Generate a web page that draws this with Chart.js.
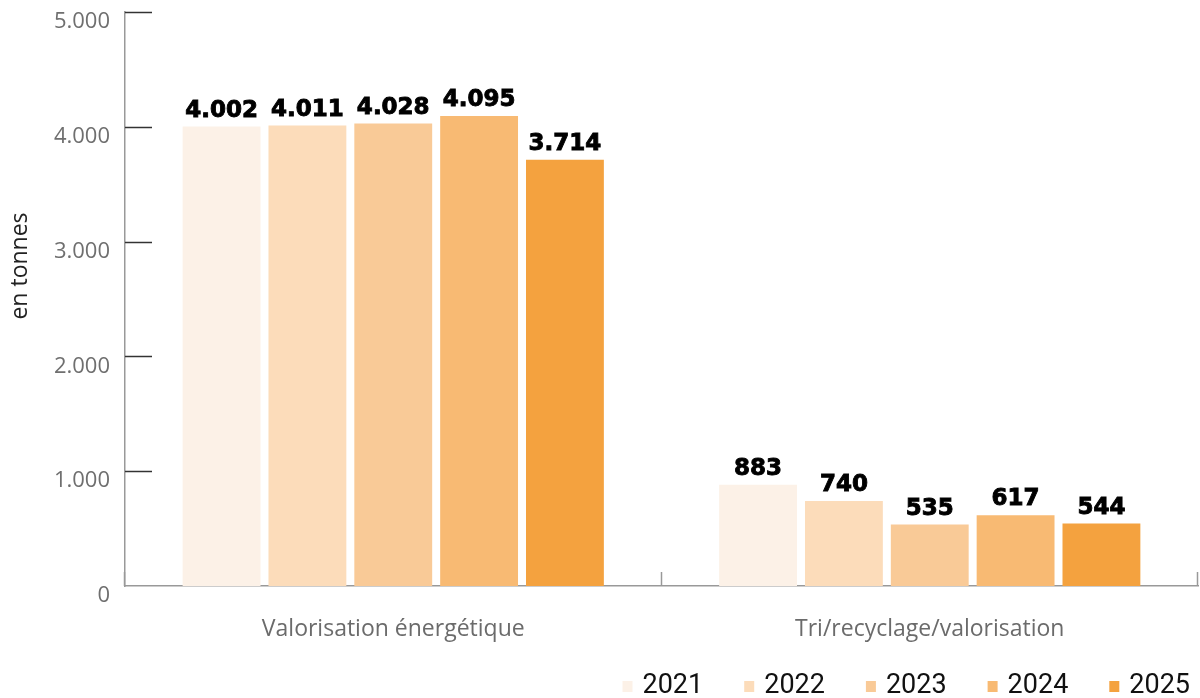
<!DOCTYPE html>
<html>
<head>
<meta charset="utf-8">
<script src="https://cdn.jsdelivr.net/npm/chart.js@4/dist/chart.umd.min.js"></script>
<style>
  html, body { margin: 0; padding: 0; background: #fff; }
  #wrap { width: 1200px; height: 698px; position: relative; }
</style>
</head>
<body>
<div id="wrap"><canvas id="myChart"></canvas></div>
<script>
const categories = ['Valorisation énergétique', 'Tri/recyclage/valorisation'];
const years = ['2021', '2022', '2023', '2024', '2025'];
const values2021 = [4002, 883];
const values2022 = [4011, 740];
const values2023 = [4028, 535];
const values2024 = [4095, 617];
const values2025 = [3714, 544];
const yTicks = [0, 1000, 2000, 3000, 4000, 5000];
const colors = ['#fcf1e7', '#fcdcba', '#f9ca97', '#f8ba73', '#f4a23f'];

const series = [values2021, values2022, values2023, values2024, values2025];

function fmt(v) {
    return String(v).replace(/\B(?=(\d{3})+(?!\d))/g, '.');
}

// short tick marks drawn inside the plot, value labels, axis title and legend
const extras = {
    id: 'extras',
    afterDatasetsDraw(chart) {
        const c = chart.ctx;
        const area = chart.chartArea;
        const y = chart.scales.y;
        const x = chart.scales.x;
        c.save();
        c.strokeStyle = '#333';
        c.lineWidth = 1.5;
        yTicks.forEach(t => {
            if (t === 0) return;
            const py = Math.round(y.getPixelForValue(t)) + 0.5;
            c.beginPath();
            c.moveTo(area.left, py);
            c.lineTo(area.left + 27, py);
            c.stroke();
        });
        c.strokeStyle = '#999';
        const half = (x.getPixelForValue(1) - x.getPixelForValue(0)) / 2;
        const bounds = [x.getPixelForValue(0) - half, x.getPixelForValue(0) + half, x.getPixelForValue(1) + half];
        bounds.forEach(b => {
            const px = Math.round(b) - 0.5;
            c.beginPath();
            c.moveTo(px, area.bottom);
            c.lineTo(px, area.bottom - 14);
            c.stroke();
        });

        // value labels
        c.fillStyle = '#000';
        c.strokeStyle = '#000';
        c.lineWidth = 0.9;
        c.font = 'bold 23px "DejaVu Sans", sans-serif';
        c.textAlign = 'center';
        c.textBaseline = 'alphabetic';
        chart.data.datasets.forEach((ds, i) => {
            chart.getDatasetMeta(i).data.forEach((bar, j) => {
                c.fillText(fmt(ds.data[j]), bar.x, bar.y - 10);
                c.strokeText(fmt(ds.data[j]), bar.x, bar.y - 10);
            });
        });

        // axis title
        c.save();
        c.translate(20, 266);
        c.rotate(-Math.PI / 2);
        c.fillStyle = '#222';
        c.textAlign = 'center';
        c.font = '23px "Open Sans", sans-serif';
        c.textBaseline = 'middle';
        c.fillText('en tonnes', 0, 0);
        c.restore();

        // legend
        c.font = '27px Roboto, sans-serif';
        c.textBaseline = 'middle';
        c.textAlign = 'left';
        const ly = 686;
        const gap = 41;
        let total = 0;
        const widths = chart.data.datasets.map(ds => c.measureText(ds.label).width);
        widths.forEach((w, i) => { total += 10 + 10 + w + (i < widths.length - 1 ? gap : 0); });
        let lx = 1190 - total;
        chart.data.datasets.forEach((ds, i) => {
            c.fillStyle = ds.backgroundColor;
            c.fillRect(lx, ly - 5, 10, 11);
            lx += 20;
            c.fillStyle = '#111';
            c.fillText(ds.label, lx, ly);
            lx += widths[i] + gap;
        });
        c.restore();
    }
};

new Chart(document.getElementById('myChart'), {
    type: 'bar',
    data: {
        labels: categories,
        datasets: years.map((yr, i) => ({
            label: yr,
            data: series[i],
            backgroundColor: colors[i],
            categoryPercentage: 0.8,
            barPercentage: 0.907
        }))
    },
    options: {
        responsive: true,
        maintainAspectRatio: false,
        animation: false,
        layout: { padding: { top: 12, right: 2, bottom: 42, left: 0 } },
        plugins: {
            legend: { display: false },
            tooltip: { enabled: false }
        },
        scales: {
            x: {
                grid: { display: false },
                border: { color: '#999', width: 1.5 },
                ticks: {
                    color: '#6b6b6b',
                    padding: 22,
                    font: { family: '"Open Sans", sans-serif', size: 23 }
                },
                afterFit(scale) { scale.height = 70; }
            },
            y: {
                min: 0,
                max: 5000,
                afterBuildTicks(scale) { scale.ticks = yTicks.map(v => ({ value: v })); },
                grid: { display: false },
                border: { color: '#999', width: 1.5 },
                ticks: {
                    color: '#6f6f6f',
                    padding: 7,
                    labelOffset: 10,
                    font: { family: '"Open Sans", sans-serif', size: 22, lineHeight: 0.1 },
                    callback: v => fmt(v)
                },
                afterFit(scale) { scale.width = 125; }
            }
        }
    },
    plugins: [extras]
});
</script>
</body>
</html>
